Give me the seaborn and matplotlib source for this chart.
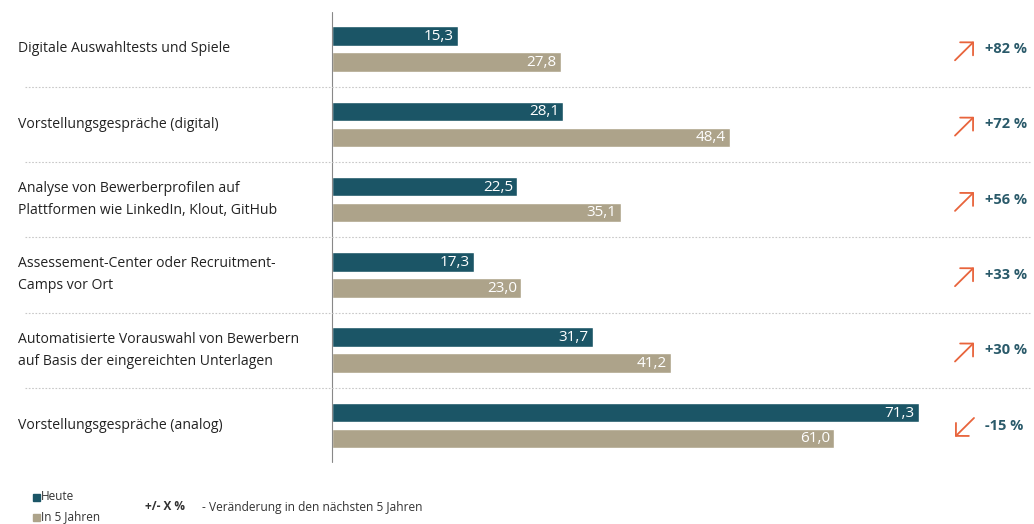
import seaborn as sns
import pandas as pd
import numpy as np
import matplotlib.pyplot as plt
from matplotlib import transforms
from matplotlib.patches import Rectangle

categories = [
    "Digitale Auswahltests und Spiele",
    "Vorstellungsgespräche (digital)",
    "Analyse von Bewerberprofilen auf\nPlattformen wie LinkedIn, Klout, GitHub",
    "Assessement-Center oder Recruitment-\nCamps vor Ort",
    "Automatisierte Vorauswahl von Bewerbern\nauf Basis der eingereichten Unterlagen",
    "Vorstellungsgespräche (analog)",
]
heute = [15.3, 28.1, 22.5, 17.3, 31.7, 71.3]
in5 = [27.8, 48.4, 35.1, 23.0, 41.2, 61.0]
changes = [82, 72, 56, 33, 30, -15]
series = ["Heute", "In 5 Jahren"]

teal = "#1b5566"
beige = "#ada38a"
orange = "#e8643c"

sns.set_style("white")
plt.rcParams['font.family'] = ['Open Sans', 'DejaVu Sans']

df = pd.DataFrame({
    'cat': categories * 2,
    'val': heute + in5,
    'serie': [series[0]] * 6 + [series[1]] * 6,
})

W, H = 1034, 524
fig = plt.figure(figsize=(W / 100, H / 100), dpi=100)
ax = fig.add_axes([0, 0, 1, 1])

sns.barplot(data=df, y='cat', x='val', hue='serie', orient='h',
            palette=[teal, beige], width=0.69, gap=0.25, legend=False,
            saturation=1, ax=ax)

# map pixels: bars start at x=332px, 8.23 px per unit; group i centered at 49+75.3i px
ppu = 8.23
y0, dy = 49, 75.3
ax.set_xlim(-332 / ppu, (W - 332) / ppu)
ax.set_ylim((H - y0) / dy, -y0 / dy)
ax.axis('off')

bt = transforms.blended_transform_factory(ax.transAxes, ax.transData)

# vertical axis line
ax.plot([0, 0], [-0.49, 5.48], color="#888888", lw=0.8)

for i, cat in enumerate(categories):
    ax.text(18 / W, i, cat, transform=bt, ha='left', va='center',
            fontsize=10.1, color="#222222", linespacing=1.65)
    ax.text(heute[i] - 0.5, i - 0.165, f"{heute[i]:.1f}".replace('.', ','),
            ha='right', va='center', color='white', fontsize=11)
    ax.text(in5[i] - 0.5, i + 0.175, f"{in5[i]:.1f}".replace('.', ','),
            ha='right', va='center', color='white', fontsize=11)
    # change arrow + label
    if changes[i] >= 0:
        start, end = (955 / W, i + 0.15), (974 / W, i - 0.1)
        lab = f"+{changes[i]} %"
    else:
        start, end = (974 / W, i - 0.1), (955 / W, i + 0.15)
        lab = f"-{abs(changes[i])} %"
    ax.annotate("", xy=end, xytext=start, xycoords=bt, textcoords=bt,
                arrowprops=dict(arrowstyle='->, head_length=0.3, head_width=0.3',
                                color=orange, lw=1.3, mutation_scale=22,
                                shrinkA=0, shrinkB=0))
    ax.text(985 / W, i, lab, transform=bt, ha='left', va='center',
            fontsize=10.5, fontweight='bold', color="#2a5a6a")
    if i < len(categories) - 1:
        ax.plot([25 / W, 1030 / W], [i + 0.5, i + 0.5], transform=bt,
                color="#c8c8c8", lw=0.8, ls=(0, (1.5, 1.5)))

# legend
for k, (name, col) in enumerate(zip(series, [teal, beige])):
    y = 497 + 20 * k
    fig.patches.append(Rectangle((33 / W, 1 - (y + 4) / H), 7 / W, 7 / H,
                                 transform=fig.transFigure, color=col))
    fig.text(41 / W, 1 - y / H, name, ha='left', va='center',
             fontsize=8.5, color="#333333")
fig.text(145 / W, 1 - 507 / H, "+/- X %", ha='left', va='center',
         fontsize=8.5, fontweight='bold', color="#333333")
fig.text(202 / W, 1 - 507 / H, "- Veränderung in den nächsten 5 Jahren",
         ha='left', va='center', fontsize=8.6, color="#333333")

fig.savefig("out.png", dpi=100)
